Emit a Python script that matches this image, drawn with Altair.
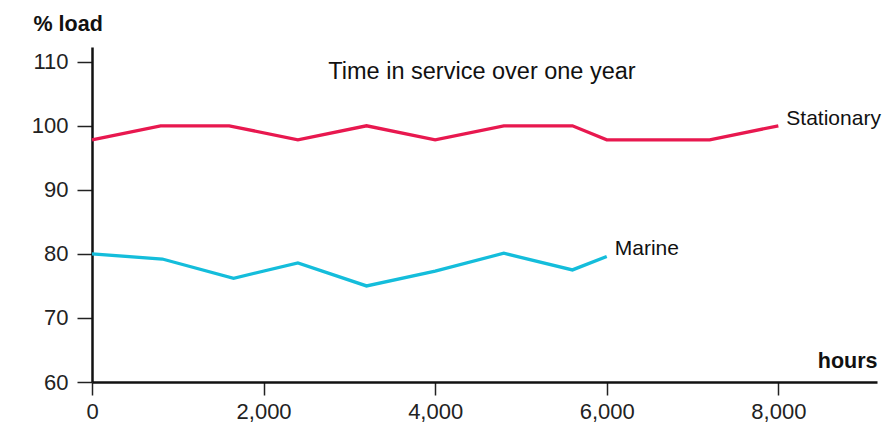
import altair as alt
import pandas as pd

# Data
stat_hours = [0, 800, 1600, 2400, 3200, 4000, 4800, 5600, 6000, 7200, 8000]
stat_load = [97.8, 100, 100, 97.8, 100, 97.8, 100, 100, 97.8, 97.8, 100]
marine_hours = [0, 820, 1650, 2400, 3200, 4000, 4800, 5600, 6000]
marine_load = [80, 79.2, 76.2, 78.6, 75, 77.3, 80.1, 77.5, 79.6]
series_names = ["Stationary", "Marine"]
series_colors = ["#E8184F", "#14BDDB"]
x_ticks = [0, 2000, 4000, 6000, 8000]
y_ticks = [60, 70, 80, 90, 100, 110]
title_text = "Time in service over one year"

rows = []
for h, v in zip(stat_hours, stat_load):
    rows.append({"hours": h, "load": v, "series": series_names[0]})
for h, v in zip(marine_hours, marine_load):
    rows.append({"hours": h, "load": v, "series": series_names[1]})
df = pd.DataFrame(rows)

labels = pd.DataFrame([
    {"hours": stat_hours[-1], "load": stat_load[-1], "series": series_names[0]},
    {"hours": marine_hours[-1], "load": marine_load[-1], "series": series_names[1]},
])

FONT = "Liberation Sans"

x = alt.X("hours:Q",
          scale=alt.Scale(domain=[0, 9150], nice=False, zero=False),
          axis=alt.Axis(values=x_ticks, format=",d", title="hours",
                        titleFont=FONT, titleFontSize=21.5, titleFontWeight="bold",
                        titleColor="#111", titleAlign="right", titleAnchor="end",
                        titleX=785, titleY=-10, titleBaseline="bottom",
                        labelFont=FONT, labelFontSize=22, labelColor="#222",
                        labelPadding=6, tickSize=13, tickWidth=1.5, tickColor="#222",
                        domainColor="#111", domainWidth=2.5, grid=False,
                        labelFlush=False))
y = alt.Y("load:Q",
          scale=alt.Scale(domain=[60, 112.3], nice=False, zero=False),
          axis=alt.Axis(values=y_ticks, title="% load",
                        titleFont=FONT, titleFontSize=21.5, titleFontWeight="bold",
                        titleColor="#111", titleAngle=0, titleAlign="left",
                        titleX=-59, titleY=-23, titleBaseline="middle",
                        labelFont=FONT, labelFontSize=22, labelColor="#222",
                        labelPadding=9, tickSize=15, tickWidth=1.5, tickColor="#222",
                        domainColor="#111", domainWidth=2.5, grid=False))

color = alt.Color("series:N", scale=alt.Scale(domain=series_names, range=series_colors), legend=None)

lines = alt.Chart(df).mark_line(strokeWidth=3.3, strokeJoin="miter").encode(
    x=x, y=y, color=color, detail="series:N")

text = alt.Chart(labels).mark_text(align="left", baseline="middle", dx=8, dy=-7,
                                   font=FONT, fontSize=21, color="#111").encode(
    x="hours:Q", y="load:Q", text="series:N")

title = alt.Chart(pd.DataFrame({"t": [title_text]})).mark_text(
    align="center", baseline="middle", font=FONT, fontSize=23.5, color="#111").encode(
    x=alt.value(390), y=alt.value(25), text="t:N")

chart = alt.layer(lines, text, title).properties(
    width=785, height=335,
    autosize=alt.AutoSizeParams(type="none"),
    padding={"left": 84, "top": 39, "right": 5, "bottom": 40},
).configure_view(stroke=None)

chart.save("out.html", embed_options={"renderer": "svg", "actions": False})
